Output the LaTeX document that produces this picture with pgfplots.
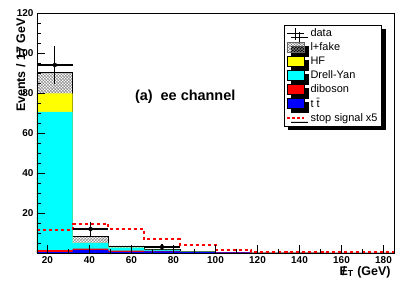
\documentclass[border=0pt]{standalone}
\usepackage{fontspec}
\setmainfont{Liberation Sans}
\usepackage{pgfplots}
\pgfplotsset{compat=1.18}
\usetikzlibrary{patterns,shadows,calc}
\definecolor{rcyan}{RGB}{0,255,255}
\definecolor{ryellow}{RGB}{255,255,0}
\definecolor{rred}{RGB}{255,0,0}
\definecolor{rblue}{RGB}{0,0,255}
\begin{document}
\begin{tikzpicture}
\begin{axis}[
  scale only axis, width=357bp, height=240bp,
  xmin=15, xmax=185, ymin=0, ymax=120,
  xtick={20,40,...,180}, ytick={20,40,...,120},
  minor xtick={10,30,...,190},
  minor ytick={5,10,...,115},
  tick align=inside, tick pos=left,
  major tick length=8bp, minor tick length=4bp,
  every tick/.style={black, line width=0.5bp},
  axis line style={line width=0.9bp},
  axis on top,
  ticklabel style={font=\bfseries\fontsize{10}{12}\selectfont},
  /pgf/number format/assume math mode=true,
  ylabel={Events / 17 GeV},
  ylabel style={at={(rel axis cs:-0.0336,0.9917)}, anchor=base east, font=\bfseries\fontsize{12.5}{14}\selectfont},
  xlabel={{\ooalign{E\cr\hidewidth/\hidewidth\cr}}\textsubscript{T} (GeV)},
  xlabel style={at={(rel axis cs:1,-0.0917)}, anchor=base east, font=\bfseries\fontsize{12.5}{14}\selectfont},
  legend style={at={(rel axis cs:0.966,0.95)}, anchor=north east, draw=black, line width=0.6bp,
    font=\fontsize{11}{12}\selectfont, inner xsep=2bp, inner ysep=1.5bp, row sep=0.6bp,
    /tikz/every odd column/.append style={column sep=3.5bp},
    drop shadow={shadow xshift=4bp, shadow yshift=-4bp, fill=black, opacity=1}},
  legend cell align=left,
]
% l+fake (cumulative total)
\addplot[const plot, draw=black, line width=0.4bp, pattern=crosshatch, pattern color=black!50, forget plot]
  coordinates {(15,90.2) (32,8.2) (49,3.5) (66,1.9) (83,0.7) (100,0.4) (117,0.15) (134,0.15) (151,0.1) (168,0.1) (185,0.1)} \closedcycle;
% HF cumulative
\addplot[const plot, fill=ryellow, draw=none, forget plot]
  coordinates {(15,79.8) (32,5.0) (49,2.7) (66,1.6) (83,0.7) (100,0.4) (117,0.15) (134,0.15) (151,0.1) (168,0.1) (185,0.1)} \closedcycle;
% Drell-Yan cumulative
\addplot[const plot, fill=rcyan, draw=none, forget plot]
  coordinates {(15,70.6) (32,5.0) (49,2.7) (66,1.6) (83,0.7) (100,0.4) (117,0.15) (134,0.15) (151,0.1) (168,0.1) (185,0.1)} \closedcycle;
% diboson cumulative
\addplot[const plot, fill=rred, draw=none, forget plot]
  coordinates {(15,1.4) (32,2.2) (49,1.2) (66,1.1) (83,0.6) (100,0.4) (117,0.15) (134,0.15) (151,0.1) (168,0.1) (185,0.1)} \closedcycle;
% ttbar
\addplot[const plot, fill=rblue, draw=none, forget plot]
  coordinates {(15,0.5) (32,1.5) (49,0.6) (66,0.8) (83,0.5) (100,0.3) (117,0.1) (134,0.1) (151,0.1) (168,0.1) (185,0.1)} \closedcycle;
% stop signal x5
\addplot[const plot, rred, line width=2bp, dash pattern=on 3bp off 3bp, forget plot]
  coordinates {(15,11.3) (32,14.5) (49,12.0) (66,6.8) (83,4.2) (100,1.5) (117,0.3) (134,0.3) (151,0.3) (168,0.3) (185,0.3)};
% data
\addplot[black, only marks, mark=none, forget plot,
  error bars/.cd, x dir=both, x explicit, y dir=both, y explicit, error mark=none,
  error bar style={line width=1.3bp, black}]
  table[x=x, y=y, x error=ex, y error=ey] {
x y ex ey
23.5 94 8.5 9.70
40.5 12 8.5 3.46
74.5 3 8.5 1.73
};
\addlegendimage{legend image code/.code={\draw[black, line width=1bp] (0bp,0bp) -- (17bp,0bp); \draw[black, line width=1bp] (8.5bp,-6bp) -- (8.5bp,6bp);}}
\addlegendentry{data}
\addlegendimage{legend image code/.code={\draw[black!60, line width=0.4bp, pattern=crosshatch, pattern color=black!50] (0bp,-5bp) rectangle (17bp,5bp);}}
\addlegendentry{l+fake}
\addlegendimage{legend image code/.code={\draw[black, line width=0.4bp, fill=ryellow] (0bp,-5bp) rectangle (17bp,5bp);}}
\addlegendentry{HF}
\addlegendimage{legend image code/.code={\draw[black, line width=0.4bp, fill=rcyan] (0bp,-5bp) rectangle (17bp,5bp);}}
\addlegendentry{Drell-Yan}
\addlegendimage{legend image code/.code={\draw[black, line width=0.4bp, fill=rred] (0bp,-5bp) rectangle (17bp,5bp);}}
\addlegendentry{diboson}
\addlegendimage{legend image code/.code={\draw[black, line width=0.4bp, fill=rblue] (0bp,-5bp) rectangle (17bp,5bp);}}
\addlegendentry{t \=t}
\addlegendimage{legend image code/.code={\draw[rred, line width=1.8bp, dash pattern=on 2.5bp off 2.5bp] (0bp,0bp) -- (17bp,0bp);}}
\addlegendentry{stop signal x5}
\node[anchor=west, font=\bfseries\fontsize{14.5}{16}\selectfont] at (axis cs:60,78) {(a)\ \ ee channel};
\end{axis}
\pgfresetboundingbox
\path[use as bounding box] ($(current axis.south west)+(-37bp,-29bp)$) rectangle ($(current axis.north east)+(21bp,13bp)$);
\end{tikzpicture}
\end{document}
